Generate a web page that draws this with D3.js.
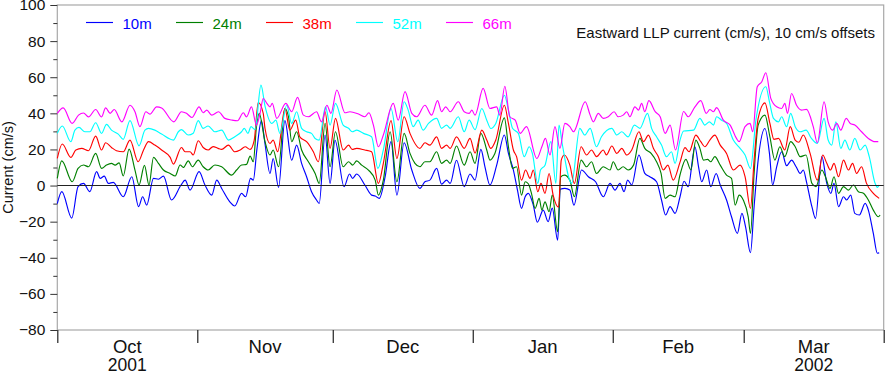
<!DOCTYPE html>
<html>
<head>
<meta charset="utf-8">
<script src="https://cdn.jsdelivr.net/npm/d3@7"></script>
<style>
  body { margin: 0; background: #fff; }
  svg { display: block; font-family: "Liberation Sans", Arial, Helvetica, sans-serif; }
</style>
</head>
<body>
<svg id="llp-chart"></svg>
<script>
// [day since 1 Oct 2001, eastward current cm/s] -- raw values, offsets are added when drawn
const depth10m = [[0,-10],[1,-3.4],[3.2,-18],[4.6,-0.6],[5.8,1.2],[7.2,-3.4],[8.7,7.7],[9.5,4],[10.4,5.2],[11.3,1.2],[12.4,1.8],[14.6,-6.2],[16.5,4.9],[18,-11.7],[18.9,-6.2],[19.8,-10.8],[21.3,4],[22.4,3.5],[23.5,5.2],[25.3,-8],[27.4,0.3],[28.3,3],[29.4,-2.5],[31.4,7.7],[32.7,0.3],[34.2,-5.3],[35.3,3],[36.4,-1.6],[38.2,-9],[39.3,-11.3],[40.8,-4.3],[41.7,-6.2],[42.8,4],[43.4,3],[44.2,20],[45.2,36],[46,23],[47.1,6.7],[47.8,15],[49,-1],[50.4,36],[51.9,14],[53,22.4],[54.1,12.3],[55.2,4.9],[56.3,-3.4],[57.4,-8],[58,-9.9],[59.3,28],[60.4,1.2],[61.5,25],[63.5,-0.6],[64.7,6.4],[65.4,4],[66.3,6.4],[68.1,0.3],[69.6,-5.3],[70.4,-5.8],[71.3,-7.1],[72.6,4.9],[73.9,24.3],[75.2,-5.3],[76.8,23.7],[78.5,8.6],[80.3,-1.6],[81.4,2.1],[82.5,3],[84,9.5],[85.1,0.8],[86.2,3],[87,1.2],[88.4,14],[90.1,-0.6],[91.4,6.4],[92.5,3],[93.8,20],[94.7,10.4],[95.8,0.3],[97.3,11.3],[99,28],[99.9,17.8],[101,8.6],[101.9,-2.5],[102.8,-12.6],[103.6,-6.2],[104.3,-4.3],[105.4,-10.8],[106.3,-20.3],[107.6,-13.6],[108.7,-20],[109.6,-12.5],[110.8,-30.2],[111.4,-2],[112.4,-1.6],[113.5,-2.5],[114.4,-10.8],[116.1,8.6],[117.6,4.9],[119.2,2.1],[120.9,-6.2],[122.4,1.2],[123.5,-2.5],[124.6,1.2],[125.5,-3.4],[126.3,3],[127.2,0.3],[128.8,16.9],[130.1,6.7],[131.2,4.9],[132.7,2.1],[133.8,-8],[134.7,-16.3],[135.7,-11.7],[136.8,-15.4],[137.9,-6.2],[138.8,2.4],[139.7,-0.6],[141.2,21.5],[142,10.4],[142.7,2.1],[143.8,8.6],[144.7,-0.6],[145.9,6.7],[146.8,0.3],[148.2,-8],[149.3,-17.3],[150.6,-26.5],[151.6,-15.4],[152.4,-22.8],[153.5,-37.2],[154.3,-11.7],[155.2,14.1],[156.7,31.6],[157.7,17.8],[158.4,0.3],[159.3,10.4],[160.4,18.7],[161.5,11],[162.6,14.1],[163.6,10.4],[164.5,6.7],[165.2,8.6],[165.9,2.1],[167.1,-11.7],[167.9,-18.2],[169.3,16],[170.4,1.2],[171.3,-4.3],[172,1.2],[173,-11.7],[174.1,-6.2],[174.8,-8],[175.7,-5.3],[176.6,-15.4],[177.6,-16.3],[178.9,-9.9],[179.6,-13.6],[180.7,-26.5],[181.6,-37.5],[182,-37.2]];

const depth24m = [[0,-6],[1,3.7],[3.3,-7.9],[4.6,-0.5],[5.8,1.4],[6.9,0.4],[8.5,7.8],[9.8,-0.5],[10.9,1.4],[12,2.3],[12.8,1.3],[13.7,2.6],[14.6,-4.7],[15.9,10.2],[17.2,-1.4],[18.1,-9.7],[19.3,1.2],[20.3,-9.7],[21.3,5.6],[22.4,2.3],[23.5,-1.4],[25,-3.3],[26.1,-4.7],[27.2,1.4],[27.9,0],[29,3.7],[29.9,0.4],[31.2,4.1],[32.3,0.4],[33.4,-1.4],[34.9,1.4],[36.4,0.4],[38.6,-4.2],[39.7,-1.4],[40.8,1.4],[41.9,1.7],[42.7,6.3],[43.4,3.2],[44.1,22.5],[44.7,30],[46,14.3],[47.1,6.9],[47.8,9.7],[49,0.4],[50.4,32.7],[51.2,28],[51.9,14.3],[53,19.8],[54.1,9.7],[55.6,3.2],[57.1,-3.3],[58,-8.8],[59.3,24.4],[60.4,0.4],[61.6,19.8],[63.3,0.4],[64.5,3.2],[65.4,1.3],[66.3,3.7],[67.4,1.3],[68.9,-1.4],[70.4,-7],[71.1,-15.3],[72.2,-7],[73.7,19.8],[75.2,-7.9],[76.8,18.9],[78.1,7.8],[79.2,2.3],[80.3,0.4],[81.4,3.2],[82.5,3.2],[84,8.7],[85.1,2.3],[86.2,4.1],[87,2.3],[88.4,11.9],[90.1,1.3],[91.4,8.7],[92.5,2.3],[93.8,18.9],[95.1,9.7],[95.8,4.1],[96.9,7.8],[99,27.5],[99.9,11.5],[100.8,-0.5],[101.7,0.4],[102.8,-15.3],[103.6,-7.9],[104.3,-9],[105,-14.3],[105.8,-22.6],[106.7,-17.1],[107.3,-23.6],[108,-19],[108.9,-24.5],[109.6,-15.3],[110.8,-35.6],[111.5,-5.1],[112.3,-4.2],[113.5,-7],[114.5,-16.2],[116,4.1],[117.2,0.4],[118.3,3.2],[119.4,-3.3],[120.9,0.4],[122.4,-1.4],[123.1,3.2],[124.2,-1.4],[125.3,0.4],[126.4,-1.4],[127.6,1.3],[129,16.1],[130.1,10.6],[131.5,7.8],[132.7,3.2],[133.7,-3.3],[134.6,-17.1],[135.7,-15.3],[136.8,-16.2],[137.9,-4],[139.2,4.5],[140.3,-1.4],[141.4,15.2],[142.3,10.6],[143.1,4.1],[144,4.5],[144.7,3.2],[145.6,6],[146.8,1.3],[148.2,-4.2],[149.3,-6],[150.1,-20.8],[151,-15.3],[151.9,-18],[153,-27.3],[153.5,-36.5],[154.3,-3.3],[155.2,23.5],[156.7,29],[157.8,17],[158.9,4.1],[160,11.5],[161.1,6],[162.4,14.3],[163.4,11.5],[164.5,6],[165.8,6.9],[167.1,-8.8],[168,-10.6],[169.3,-1.4],[170.1,-5.1],[171.1,-11.6],[172,-5.1],[173,-14.3],[174.1,-10.6],[175.2,-12.5],[176.3,-9.7],[177.4,-13.4],[178.5,-14.3],[179.6,-18],[180.7,-23.6],[181.8,-27.3],[182.2,-26.3]];

const depth38m = [[0,-5],[1.1,3],[3,-4.4],[4.1,-0.3],[5.4,0.6],[6.9,-0.7],[8.5,7.4],[9.8,-0.3],[10.7,3.7],[12,1.1],[13.1,-0.7],[14.6,-1.3],[16.1,5.2],[17.9,-6.8],[19.1,-0.3],[20.2,4.3],[21.6,2.4],[23.1,-0.3],[25,-4.4],[25.7,-8.1],[27.5,1.1],[28.3,-1.3],[29.4,-1.3],[30.1,-3.1],[31.2,4.8],[32.3,1.1],[33.4,-0.3],[34.5,1.6],[35.6,0.6],[36.4,0],[37.9,2.4],[39.3,-1.3],[40.5,-0.3],[41.6,1.5],[42.7,0],[43.6,5],[44.5,26],[45.6,20],[46,11.6],[47.1,3.3],[47.8,5.2],[48.8,-1.3],[50.4,22.7],[51.5,10.7],[52.8,16.2],[53.7,7],[55.2,4.3],[56.7,-1.3],[57.8,-6.8],[59.3,20.9],[60.4,0.6],[61.6,17.2],[63.3,-0.3],[64.5,2.4],[65.3,0],[66.3,0.6],[68.1,-0.3],[69.6,-1.3],[71.1,-18.8],[72.2,-7.7],[73.9,16],[75.2,-5],[76.8,18.1],[78.1,8.9],[80.3,0.6],[81.4,3.7],[82.5,2.4],[84,7],[85.1,0.6],[86.2,2.4],[87,0.6],[88.4,7],[90.1,0.6],[91.4,6.1],[92.5,-2],[94,10.7],[95.1,5.2],[96,0.6],[97.1,5.2],[99,24.5],[99.9,14.4],[101,-0.3],[101.7,-4],[102.8,-17],[103.7,-11.4],[104.7,-16],[105.4,-11.4],[106.4,-23.4],[107.1,-18.8],[108,-24.3],[108.9,-13.3],[109.8,-25.3],[111,-32],[111.6,-5.9],[112.3,-3.1],[113.5,-8.7],[114.5,-18.8],[116,1.5],[117.2,-3.1],[118.3,-0.3],[119.4,-4],[120.9,-0.3],[121.6,-3],[122.8,1.9],[123.9,-2.2],[125,0.6],[126.1,-3.1],[127.2,-0.3],[128.8,9.8],[129.8,4.3],[130.9,7.9],[132,0.6],[133.1,-4],[134.2,-11.4],[135.2,-8.7],[136.4,-17],[137.9,-7],[139,1],[139.9,-1.3],[141.4,7.9],[142.5,4.3],[143.4,1.5],[144.5,5.2],[145.6,7.9],[146.8,2.4],[148.2,-2.2],[149.7,-11.4],[151.2,-8.7],[152.3,-15.1],[153.5,-32.6],[154.3,-5.9],[155.2,17.2],[156.7,25.8],[157.8,14.4],[158.7,5.6],[159.7,6.1],[161.1,-0.3],[162.3,12.6],[163.4,5.2],[164.2,4],[165.2,8],[166.7,-2.2],[168.3,-17],[169.5,-3.1],[170.4,-7.7],[171.2,-11.4],[172,-7.7],[173,-15.1],[174.1,-5.9],[175.2,-11.4],[176.1,-7.7],[177,-13.3],[178.1,-9.6],[179.2,-18.8],[180.7,-24.3],[182,-27.1]];

const depth52m = [[0,-1.1],[1.1,3],[3,-5.7],[3.9,0.7],[4.8,2.2],[6.1,-0.2],[7.2,-0.2],[8.5,4.8],[9.8,-1.1],[10.9,3.9],[12,0.7],[13.5,-1.5],[14.6,-4.4],[16.1,6],[18.1,-8],[19.4,0.7],[20.2,1.7],[21.6,0.7],[23.1,-1.5],[25.7,-4.8],[26.8,-0.2],[27.5,1],[29,-2],[30.1,-1],[31.2,6],[32.3,1.7],[33.4,3],[34.9,-0.2],[36.4,0.7],[37.9,-4.8],[39.3,-3],[40.8,-0.2],[41.4,1.7],[42.2,-1.1],[42.9,2.6],[43.8,1],[45.1,25.6],[46,14],[47.5,4.4],[48.4,6.2],[49.3,-1.1],[50.8,14.5],[51.9,4.4],[53,10.9],[54.1,1.7],[55.2,-0.2],[56.3,-1.1],[57.1,-3.9],[58,-4.8],[59.4,13.6],[60.4,3.5],[61.6,15.5],[63.3,3.5],[64.5,1.7],[65.3,-0.2],[66.3,0.7],[67.8,-1.1],[69.6,-3],[71,-20.5],[72.2,-10.3],[73.9,12.7],[75.4,-5.7],[76.8,16.4],[77.7,11.8],[78.8,2.6],[79.9,6.2],[81,0.7],[82.2,4.4],[84,7.2],[85.1,1.7],[86.2,3.5],[87,1.7],[88.8,8.1],[90.1,-0.2],[91.2,6.2],[92.5,1],[94,12.7],[95.1,6.2],[96,1.6],[97.1,4.4],[99,20],[99.9,11.8],[100.8,1.7],[102.1,-1.1],[103.4,-14],[104.5,-8.5],[105.2,-12.2],[106.4,-28.8],[107,-21.4],[108,-18.7],[109.3,-5.7],[110.4,-28.8],[111.1,3.5],[111.8,-6.7],[113.9,-28.8],[115.7,1.7],[116.8,-2],[118,1.7],[119.4,-8.5],[120.5,-3],[122.8,1.7],[123.9,-2],[125,-0.2],[126.4,-3],[127.8,3.5],[129,1.7],[130.7,10],[131.6,1.7],[132.7,-3],[133.8,-7.6],[134.9,-14],[136,-11.3],[136.8,-17.7],[137.9,-4.8],[138.7,0.2],[140.9,0.7],[142.3,7.2],[143.4,3.5],[144.4,5.3],[145.3,3.5],[146,8.1],[147.1,6.2],[148.2,4.4],[149.7,-4.8],[151.2,-9.4],[152.3,-13.1],[153.5,-20.5],[154.7,6.2],[156.9,24.7],[157.7,16.4],[158.6,7.2],[159.7,5.3],[160.4,8.1],[161.5,2.6],[162.4,10],[163.4,2.6],[164.5,-0.2],[165.8,0.7],[167,-3.9],[168.3,-6.7],[169.8,7.2],[170.7,-4.8],[171.5,-7.6],[172.4,5.3],[173.5,-9.4],[174.4,-4.8],[175.5,-10.3],[176.6,-3.9],[177.8,-10.3],[178.9,-7.6],[179.8,-14],[181.1,-28.8],[181.6,-31],[182,-29.7]];

const depth66m = [[0,0],[1.3,3],[3.3,-5.6],[4.7,-1],[5.8,0.2],[6.9,-2],[8.5,2.1],[9.8,-2],[10.7,3],[11.7,0],[12.6,2.1],[14.3,-4.7],[16.1,4.5],[17.2,0.9],[18.3,-7.4],[19.6,0.9],[20.5,-0.4],[22,3.6],[23.1,3],[25.8,-4.7],[27.5,0.9],[28.6,0],[29.8,-2.3],[31.4,3.6],[32.3,0.3],[33.1,1.8],[34.2,-1],[35.7,0.9],[37.1,-2.8],[38.6,-3.7],[39.9,-4.1],[41.2,0.3],[41.9,-2],[43,3.6],[44.1,-6.5],[44.9,0],[45.6,8.2],[46.4,5.5],[47.1,3.6],[47.6,5.5],[48.6,-2.8],[50.6,5.5],[51.9,0.9],[53.2,8.8],[54.5,-1],[55.6,-1.9],[57.4,0.9],[58.5,-4.7],[59.7,4.5],[60.6,0],[61.9,12.9],[63.7,0.3],[64.8,0.9],[66.7,-0.4],[68.1,-1.9],[69,0.3],[70,-6.5],[71.1,-18.5],[72.2,-12],[74.4,5.5],[75.5,-3.8],[77,12],[78.5,0],[79.6,-1.9],[81.4,4.5],[82.9,-1],[84.2,7],[85.1,0.9],[86,3.6],[87,0.9],[88.8,6.4],[90.1,0.9],[91.2,0],[91.8,1.8],[92.5,-1],[94.3,13.8],[95.8,2.7],[97.3,3.6],[98,-1],[99.1,15],[100.2,-1.9],[101.4,-3.8],[102.5,-11.1],[103.9,-7.4],[106.2,-25],[107.3,-18.5],[108.1,-13.9],[109.1,-23.1],[110.2,-7.4],[111.3,-19.4],[112.4,-5.6],[113.5,-7.4],[114.3,-10.2],[116.9,6.4],[118,-1],[118.7,-4.7],[119.8,0],[120.9,-2.8],[122,-1.9],[123.3,0.9],[124.2,-1.9],[125.3,-1],[126.1,0.9],[126.8,-1.9],[127.9,3.6],[128.7,1.8],[129.4,5.5],[130.1,0.9],[131,7],[132.4,0.9],[133.5,-1.9],[134.6,-11.1],[135.7,-6.5],[136.9,-20.3],[138.7,1],[139.7,-1.9],[141.2,3.6],[142.5,7],[143.7,0],[144.5,2.1],[145.3,0.9],[146,3.2],[147.5,-3.8],[149,-6.5],[150.4,-13.9],[151,-15.7],[152.3,-7.4],[153.4,-5.6],[154,-10.2],[155,14.7],[156,17.5],[156.9,22.5],[158,8.3],[159.3,3.6],[160.4,2.7],[161.1,5.5],[161.7,0],[162.6,11],[163.7,4.5],[164.8,1.8],[165.9,2.2],[167.4,-7.4],[168.3,-16.3],[169.8,6.4],[170.7,-4.7],[171.7,-9.3],[172.6,-5.6],[173.5,-9.3],[174.7,-2.8],[175.6,-5.6],[176.6,-6.5],[178.1,-10.2],[179.6,-13.9],[181.1,-15.7],[181.8,-15.7]];

const depthNames = ['10m', '24m', '38m', '52m', '66m'];
const depthSeries = [depth10m, depth24m, depth38m, depth52m, depth66m];
const depthOffsets = [0, 10, 20, 30, 40];
const depthColors = ['#0000ff', '#008000', '#ff0000', '#00ffff', '#ff00ff'];

const monthTickDays = [0, 31, 61, 92, 123, 152, 183];
const monthLabels = ['Oct', 'Nov', 'Dec', 'Jan', 'Feb', 'Mar'];
const yearLabels = ['2001', '', '', '', '', '2002'];
const yMajorTicks = [-80, -60, -40, -20, 0, 20, 40, 60, 80, 100];
const yMinorTicks = [-70, -50, -30, -10, 10, 30, 50, 70, 90];

const chartTitle = 'Eastward LLP current (cm/s), 10 cm/s offsets';
const yTitle = 'Current (cm/s)';

createCurrentChart({ id: 'llp-chart', size: { width: 885, height: 372 } });

function createCurrentChart(chartParams) {
  const svg = d3.select(`#${chartParams.id}`);
  const svgSize = chartParams.size;
  const margin = { top: 5, right: 1.3, bottom: 42, left: 57.3 };
  svg.attr('width', svgSize.width).attr('height', svgSize.height);
  const mainGroup = svg.append('g').attr('id', `${chartParams.id}-main-group`);
  const xLine = d3.scaleLinear()
    .domain([0, 183])
    .range([margin.left, svgSize.width - margin.right]);
  const yLine = d3.scaleLinear()
    .domain([-80, 100])
    .range([svgSize.height - margin.bottom, margin.top]);

  drawFrame(mainGroup, xLine, yLine);
  drawYAxis(mainGroup, yLine, margin);
  drawXAxis(mainGroup, xLine, yLine);
  drawSeries(mainGroup, xLine, yLine);
  drawZeroLine(mainGroup, xLine, yLine);
  drawLegend(mainGroup);
  drawTitles(mainGroup, yLine);
}

function drawFrame(g, xLine, yLine) {
  const [x0, x1] = xLine.range();
  const [y0, y1] = yLine.range();
  g.append('rect')
    .attr('x', x0).attr('y', y1)
    .attr('width', x1 - x0).attr('height', y0 - y1)
    .attr('fill', 'none')
    .attr('stroke', '#a8a8a8')
    .attr('stroke-width', 1.2);
}

function drawYAxis(g, yLine, margin) {
  const major = g.append('g')
    .attr('transform', `translate(${margin.left},0)`)
    .call(d3.axisLeft(yLine).tickValues(yMajorTicks).tickSize(7).tickPadding(5));
  const minor = g.append('g')
    .attr('transform', `translate(${margin.left},0)`)
    .call(d3.axisLeft(yLine).tickValues(yMinorTicks).tickSize(4).tickFormat(''));
  [major, minor].forEach(axis => {
    axis.select('.domain').remove();
    axis.selectAll('.tick line').attr('stroke', '#333');
  });
  major.selectAll('.tick text')
    .attr('font-family', '"Liberation Sans", Arial, sans-serif')
    .attr('font-size', 15.5)
    .attr('fill', '#111');
}

function drawXAxis(g, xLine, yLine) {
  const yBase = yLine.range()[0];
  const axis = g.append('g')
    .attr('transform', `translate(0,${yBase})`)
    .call(d3.axisBottom(xLine).tickValues(monthTickDays).tickSize(13).tickFormat(''));
  axis.select('.domain').remove();
  axis.selectAll('.tick line').attr('stroke', '#222').attr('stroke-width', 1.2);

  monthLabels.forEach((label, i) => {
    const xMid = xLine((monthTickDays[i] + monthTickDays[i + 1]) / 2);
    g.append('text')
      .attr('x', xMid).attr('y', yBase + 23)
      .attr('text-anchor', 'middle')
      .attr('font-size', 18.5)
      .attr('fill', '#111')
      .text(label);
    if (yearLabels[i]) {
      g.append('text')
        .attr('x', xMid).attr('y', yBase + 40.5)
        .attr('text-anchor', 'middle')
        .attr('font-size', 17.5)
        .attr('fill', '#111')
        .text(yearLabels[i]);
    }
  });
}

function drawSeries(g, xLine, yLine) {
  depthSeries.forEach((series, i) => {
    const line = d3.line()
      .x(d => xLine(d[0]))
      .y(d => yLine(d[1] + depthOffsets[i]))
      .curve(d3.curveMonotoneX);
    g.append('path')
      .attr('fill', 'none')
      .attr('stroke', depthColors[i])
      .attr('stroke-width', 1.15)
      .attr('stroke-linejoin', 'round')
      .attr('d', line(series));
  });
}

function drawZeroLine(g, xLine, yLine) {
  g.append('line')
    .attr('x1', xLine.range()[0]).attr('x2', xLine.range()[1])
    .attr('y1', yLine(0)).attr('y2', yLine(0))
    .attr('stroke', '#222')
    .attr('stroke-width', 1.1);
}

function drawLegend(g) {
  const legend = g.append('g').attr('transform', 'translate(86,0)');
  depthNames.forEach((name, i) => {
    const item = legend.append('g').attr('transform', `translate(${i * 90},0)`);
    item.append('line')
      .attr('x1', 0).attr('x2', 27)
      .attr('y1', 22.5).attr('y2', 22.5)
      .attr('stroke', depthColors[i])
      .attr('stroke-width', 1.15);
    item.append('text')
      .attr('x', 36.5).attr('y', 28.5)
      .attr('font-size', 15)
      .attr('fill', depthColors[i])
      .text(name);
  });
}

function drawTitles(g, yLine) {
  g.append('text')
    .attr('x', 875).attr('y', 37.5)
    .attr('text-anchor', 'end')
    .attr('font-size', 15)
    .attr('fill', '#111')
    .text(chartTitle);
  const yMid = (yLine.range()[0] + yLine.range()[1]) / 2;
  g.append('text')
    .attr('transform', `translate(13,${yMid}) rotate(-90)`)
    .attr('text-anchor', 'middle')
    .attr('font-size', 14.5)
    .attr('fill', '#111')
    .text(yTitle);
}
</script>
</body>
</html>
